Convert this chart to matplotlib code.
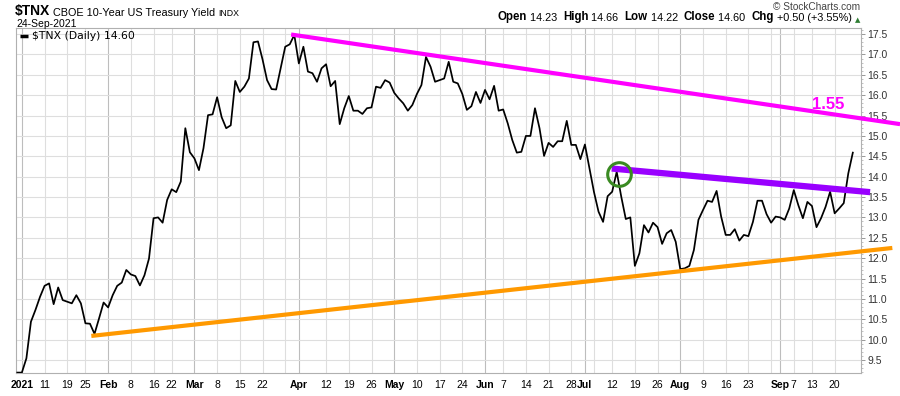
import matplotlib
matplotlib.use("Agg")
import matplotlib.pyplot as plt
import numpy as np

plt.rcParams['font.family'] = ['Liberation Sans', 'DejaVu Sans']

# daily closes of $TNX, 31-Dec-2020 .. 24-Sep-2021
tnx = [9.19, 9.19, 9.54, 10.44, 10.73, 11.05, 11.32, 11.38, 10.87, 11.28,
       10.97, 10.93, 10.89, 11.09, 10.89, 10.40, 10.39, 10.14, 10.52, 10.91,
       10.79, 11.09, 11.32, 11.40, 11.71, 11.60, 11.56, 11.33, 11.58, 11.99,
       12.98, 13.00, 12.87, 13.43, 13.69, 13.62, 13.88, 15.19, 14.60, 14.45,
       14.16, 14.70, 15.51, 15.53, 15.95, 15.46, 15.19, 15.26, 16.35, 16.08,
       16.21, 16.41, 17.30, 17.32, 16.88, 16.37, 16.15, 16.14, 16.66, 17.19,
       17.25, 17.48, 16.78, 17.19, 16.58, 16.54, 16.33, 16.66, 16.76, 16.22,
       16.35, 15.29, 15.68, 15.98, 15.62, 15.62, 15.54, 15.68, 15.70, 16.21,
       16.18, 16.37, 16.31, 16.06, 15.92, 15.80, 15.62, 15.76, 16.03, 16.25,
       16.94, 16.70, 16.33, 16.37, 16.41, 16.82, 16.33, 16.29, 16.03, 15.64,
       15.73, 16.08, 15.81, 16.13, 15.90, 16.23, 15.62, 15.65, 15.31, 14.90,
       14.59, 14.61, 15.00, 15.00, 15.68, 15.19, 14.51, 14.83, 14.73, 14.87,
       14.87, 15.37, 14.78, 14.78, 14.43, 14.79, 14.20, 13.62, 13.14, 12.89,
       13.52, 13.63, 14.12, 13.51, 12.96, 13.00, 11.81, 12.12, 12.81, 12.63,
       12.87, 12.76, 12.35, 12.61, 12.69, 12.40, 11.73, 11.75, 11.81, 12.20,
       12.94, 13.18, 13.41, 13.38, 13.65, 13.02, 12.57, 12.57, 12.71, 12.43,
       12.57, 12.54, 12.89, 13.41, 13.41, 13.08, 12.87, 13.02, 13.00, 12.94,
       13.22, 13.67, 13.30, 12.98, 13.38, 13.28, 12.76, 12.98, 13.26, 13.63,
       13.10, 13.22, 13.35, 14.08, 14.59]

# x axis: trading-day index of each labelled week
tick_idx = [1, 6, 11, 15, 20, 25, 30, 34, 39, 44, 49, 54, 62, 68, 73, 78,
            83, 88, 93, 98, 103, 107, 112, 117, 122, 125, 131, 136, 141,
            146, 151, 156, 161, 168, 171, 175, 180]
tick_labels = ['2021', '11', '19', '25', 'Feb', '8', '16', '22', 'Mar', '8',
               '15', '22', 'Apr', '12', '19', '26', 'May', '10', '17', '24',
               'Jun', '7', '14', '21', '28', 'Jul', '12', '19', '26', 'Aug',
               '9', '16', '23', 'Sep', '7', '13', '20']
month_labels = ['2021', 'Feb', 'Mar', 'Apr', 'May', 'Jun', 'Jul', 'Aug', 'Sep']
unlabelled_weeks = [59, 127, 166]

# hand drawn annotations (index, value)
resistance = ([60.3, 194.4], [17.49, 15.29])
support = ([16.3, 192.7], [10.09, 12.25])
breakout = ([130.9, 187.8], [14.20, 13.62])
circle_pt = (132.6, 14.06)

W, H = 900, 396
fig = plt.figure(figsize=(W / 100, H / 100), dpi=100)
ax = fig.add_axes([16 / W, 23 / H, 845 / W, 345 / H])


def px(x, y):
    return x / W, 1 - y / H


x = np.arange(len(tnx))
ax.set_xlim(-0.29, 185.8)
ax.set_ylim(9.18, 17.65)

# grid
ax.set_yticks(np.arange(9.5, 17.51, 0.5))
ax.set_yticks(np.arange(9.2, 17.65, 0.1), minor=True)
ax.grid(axis='y', which='major', color='#dedede', lw=0.8)
for i in tick_idx + unlabelled_weeks:
    lab = tick_labels[tick_idx.index(i)] if i in tick_idx else ''
    c = '#bdbdbd' if lab in month_labels else '#dedede'
    ax.axvline(i, color=c, lw=0.8, zorder=0)

ax.plot(x, tnx, color='black', lw=1.25, zorder=3)

ax.plot(*resistance, color='#ff00ff', lw=3, solid_capstyle='butt',
        clip_on=False, zorder=4)
ax.plot(*support, color='#ff9900', lw=3, solid_capstyle='butt',
        clip_on=False, zorder=4)
ax.plot(*breakout, color='#9900ff', lw=4.5, solid_capstyle='butt',
        clip_on=False, zorder=4)
ax.plot([circle_pt[0]], [circle_pt[1]], marker='o', ms=17, mfc='none',
        mec='#3a8a22', mew=2.2, zorder=5)
ax.text(175, 15.65, '1.55', color='#ff00ff', fontsize=12, fontweight='bold',
        va='baseline', ha='left')

# axes styling
ax.yaxis.tick_right()
ax.set_yticklabels(['%.1f' % v for v in np.arange(9.5, 17.51, 0.5)])
ax.tick_params(axis='y', which='major', length=3, width=0.6, color='#888888',
               labelsize=7.5, labelcolor='#333333', pad=1.5)
ax.tick_params(axis='y', which='minor', length=1.5, width=0.5, color='#aaaaaa')
ax.set_xticks(tick_idx)
ax.set_xticklabels(tick_labels)
ax.tick_params(axis='x', length=0, labelsize=7.5, pad=5)
for t in ax.get_xticklabels():
    if t.get_text() in month_labels:
        t.set_fontweight('bold')
for s in ax.spines.values():
    s.set_color('#b0b0b0')
    s.set_linewidth(0.8)

# legend inside the panel
ax.plot([0.005, 0.014], [0.977, 0.977], transform=ax.transAxes, color='black',
        lw=2.5, solid_capstyle='butt')
ax.text(0.019, 0.977, r'\$TNX (Daily) 14.60', transform=ax.transAxes,
        fontsize=7.8, family='DejaVu Sans', va='center', ha='left')


def chain(prev, s, side='right', **kw):
    if side == 'right':
        return ax.annotate(s, xy=(1, 0), xycoords=prev, ha='left', va='bottom',
                           annotation_clip=False, **kw)
    return ax.annotate(s, xy=(0, 0), xycoords=prev, ha='right', va='bottom',
                       annotation_clip=False, **kw)


# title block
t = fig.text(*px(15, 15), r'\$TNX', fontsize=10, fontweight='bold',
             va='baseline', ha='left')
t = chain(t, ' CBOE 10-Year US Treasury Yield ', fontsize=7.8)
chain(t, 'INDX', fontsize=6.3)
fig.text(*px(16, 27), '24-Sep-2021', fontsize=7.5, va='baseline', ha='left')

# top right quote line
fig.text(*px(860, 10), '\u00a9 StockCharts.com', fontsize=7.3, color='#444444',
         va='baseline', ha='right')
t = fig.text(*px(860, 22), '\u25b2', fontsize=5, color='#2e7d32',
             va='baseline', ha='right', family='DejaVu Sans')
pieces = [('Open', True), (' 14.23  ', False), ('High', True),
          (' 14.66  ', False), ('Low', True), (' 14.22  ', False),
          ('Close', True), (' 14.60  ', False), ('Chg', True),
          (' +0.50 (+3.55%) ', False)]
for s, bold in reversed(pieces):
    t = chain(t, s, side='left', fontsize=8.3 if bold else 7.8,
              fontweight='bold' if bold else 'normal')

fig.savefig('out.png', dpi=100)
